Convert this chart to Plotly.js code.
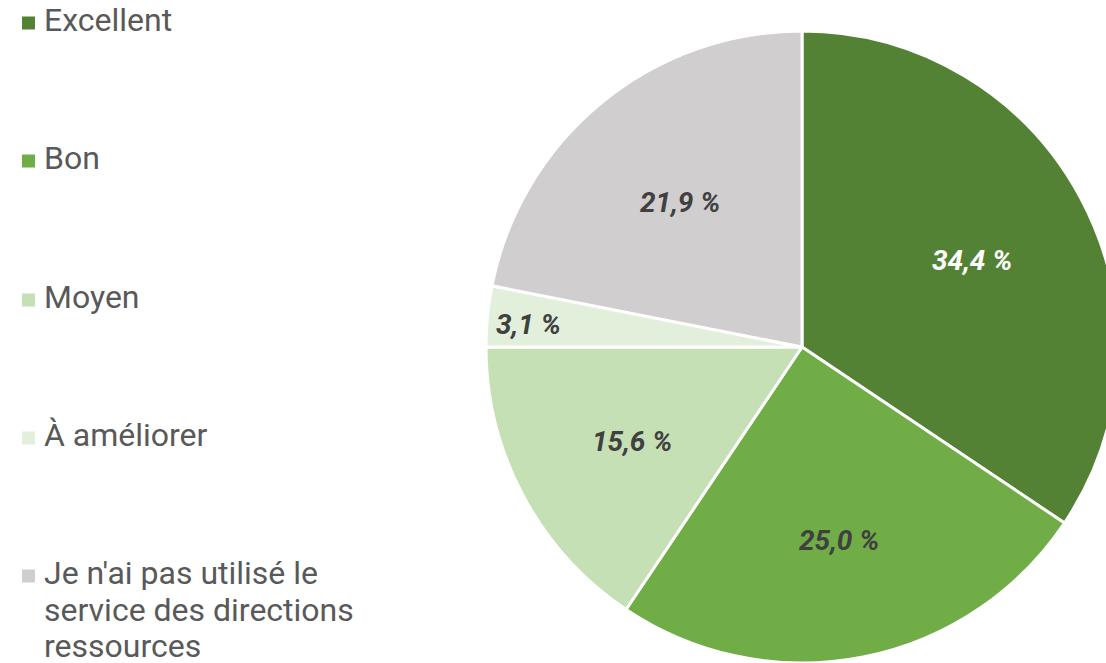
<!DOCTYPE html>
<html><head><meta charset="utf-8">
<script src="https://cdn.plot.ly/plotly-3.0.1.min.js"></script>
<style>html,body{margin:0;padding:0;overflow:hidden;background:#fff;width:1106px;height:663px}#c{width:1200px;height:720px}</style>
</head><body><div id="c"></div>
<script>
const labels = ["Excellent", "Bon", "Moyen", "À améliorer", "Je n'ai pas utilisé le<br>service des directions<br>ressources"];
const values = [34.4, 25.0, 15.6, 3.1, 21.9];
const colors = ["#548235", "#70AD47", "#C5E0B4", "#E2EFDA", "#D0CECE"];
const textColors = ["#FFFFFF", "#404040", "#404040", "#404040", "#404040"];

const W = 1200, H = 720;
const cx = 802, cy = 347, R = 316;
const px = x => x / W, py = y => 1 - y / H;

const annotations = [], shapes = [];
// slice labels from data
const total = values.reduce((a, b) => a + b, 0);
let cum = 0;
values.forEach((v, i) => {
  const mid = (cum + v / 2) / total * 2 * Math.PI;
  cum += v;
  const rf = v / total < 0.05 ? 0.87 : 0.61;
  const x = cx + Math.sin(mid) * R * rf, y = cy - Math.cos(mid) * R * rf + 4;
  annotations.push({
    xref: 'paper', yref: 'paper', x: px(x), y: py(y), xanchor: 'center', yanchor: 'middle',
    showarrow: false, text: '<b><i>' + v.toFixed(1).replace('.', ',') + ' %</i></b>',
    font: {family: 'Roboto', size: 28, color: textColors[i]}
  });
});
// legend
const legY = [20, 158, 297, 435, 573];
const lineGap = 36.5;
labels.forEach((l, i) => {
  const y0 = legY[i];
  shapes.push({type: 'rect', xref: 'paper', yref: 'paper', x0: px(22), x1: px(35), y0: py(y0 - 3.5), y1: py(y0 + 9.5), fillcolor: colors[i], line: {width: 0}});
  l.split('<br>').forEach((line, j) => {
    annotations.push({
      xref: 'paper', yref: 'paper', x: px(42), y: py(y0 + j * lineGap), xanchor: 'left', yanchor: 'middle', align: 'left',
      showarrow: false, text: line, font: {family: 'Roboto', size: 32, color: '#595959'}
    });
  });
});

Plotly.newPlot('c', [{
  type: 'pie', labels: labels, values: values, sort: false, direction: 'clockwise', rotation: 0,
  marker: {colors: colors, line: {color: '#FFFFFF', width: 3}},
  textinfo: 'none', hoverinfo: 'none',
  domain: {x: [486 / W, 1118 / W], y: [1 - 663 / H, 1 - 31 / H]}
}], {
  width: W, height: H, margin: {l: 0, r: 0, t: 0, b: 0}, showlegend: false,
  paper_bgcolor: '#fff', annotations: annotations, shapes: shapes
}, {staticPlot: true});
</script></body></html>
